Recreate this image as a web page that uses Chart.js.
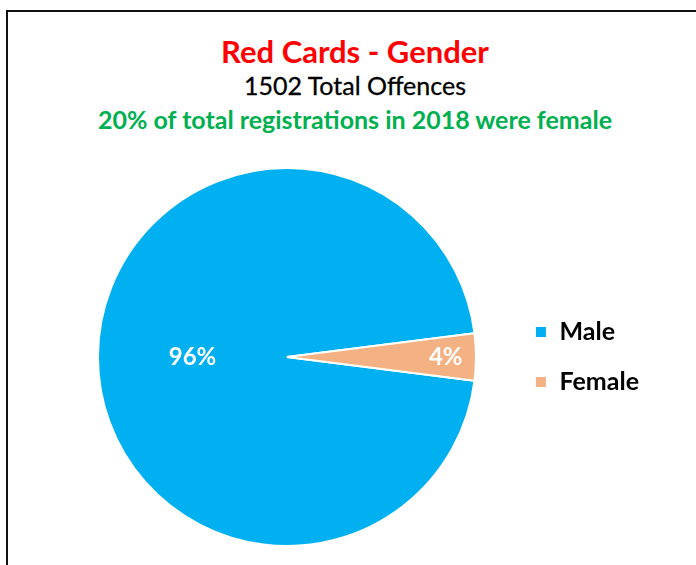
<!DOCTYPE html>
<html>
<head>
<meta charset="utf-8">
<script src="https://cdn.jsdelivr.net/npm/chart.js@4/dist/chart.umd.min.js"></script>
<style>
  html, body { margin: 0; padding: 0; background: #fff; overflow: hidden; }
  body { width: 696px; height: 565px; position: relative; font-family: Lato, "Open Sans", sans-serif; }
  .frame { position: absolute; left: 6px; top: 10px; width: 800px; height: 700px;
           border-top: 2px solid #111; border-left: 2px solid #111; }
  .head { position: absolute; left: 7px; width: 696px; text-align: center; font-weight: bold;
          white-space: nowrap; line-height: 1; }
  #t1 { top: 36px; font-size: 31px; color: #ff0000; }
  #t2 { top: 73px; font-size: 25px; color: #000; font-weight: normal; -webkit-text-stroke: 0.3px #000; }
  #t3 { top: 107px; font-size: 25px; color: #00b050; }
  #wrap { position: absolute; left: 0; top: 150px; width: 696px; height: 415px; }
</style>
</head>
<body>
<div class="frame"></div>
<div class="head" id="t1">Red Cards - Gender</div>
<div class="head" id="t2">1502 Total Offences</div>
<div class="head" id="t3">20% of total registrations in 2018 were female</div>
<div id="wrap"><canvas id="pie"></canvas></div>
<script>
const labels = ['Male', 'Female'];
const shares = [96, 4];
const sliceColors = ['#00b0f0', '#f4b183'];
// how far out along the radius each percentage label sits
const labelSpots = [0.5, 0.84];

const pctLabels = {
    id: 'pctLabels',
    afterDatasetsDraw(chart) {
        const ctx = chart.ctx;
        const meta = chart.getDatasetMeta(0);
        const total = shares.reduce((a, b) => a + b, 0);
        ctx.save();
        ctx.fillStyle = '#fff';
        ctx.font = 'bold 24px Lato, "Open Sans", sans-serif';
        ctx.textAlign = 'center';
        ctx.textBaseline = 'middle';
        meta.data.forEach((arc, i) => {
            const p = arc.getProps(['x', 'y', 'startAngle', 'endAngle', 'outerRadius'], true);
            const mid = (p.startAngle + p.endAngle) / 2;
            const r = p.outerRadius * labelSpots[i];
            const txt = Math.round(shares[i] / total * 100) + '%';
            ctx.fillText(txt, p.x + Math.cos(mid) * r, p.y + Math.sin(mid) * r);
        });
        ctx.restore();
    }
};

new Chart(document.getElementById('pie'), {
    type: 'pie',
    data: {
        labels: labels,
        datasets: [{
            data: shares,
            backgroundColor: sliceColors,
            borderColor: '#fff',
            borderWidth: 2
        }]
    },
    options: {
        responsive: true,
        maintainAspectRatio: false,
        animation: false,
        rotation: 97.2,
        layout: { padding: { top: 17, bottom: 18, left: 64, right: 47 } },
        plugins: {
            legend: {
                position: 'right',
                labels: {
                    boxWidth: 12,
                    boxHeight: 12,
                    padding: 25,
                    color: '#000',
                    font: { family: 'Lato, "Open Sans", sans-serif', size: 25, weight: 'bold' }
                }
            },
            tooltip: { enabled: false }
        }
    },
    plugins: [pctLabels]
});
</script>
</body>
</html>
